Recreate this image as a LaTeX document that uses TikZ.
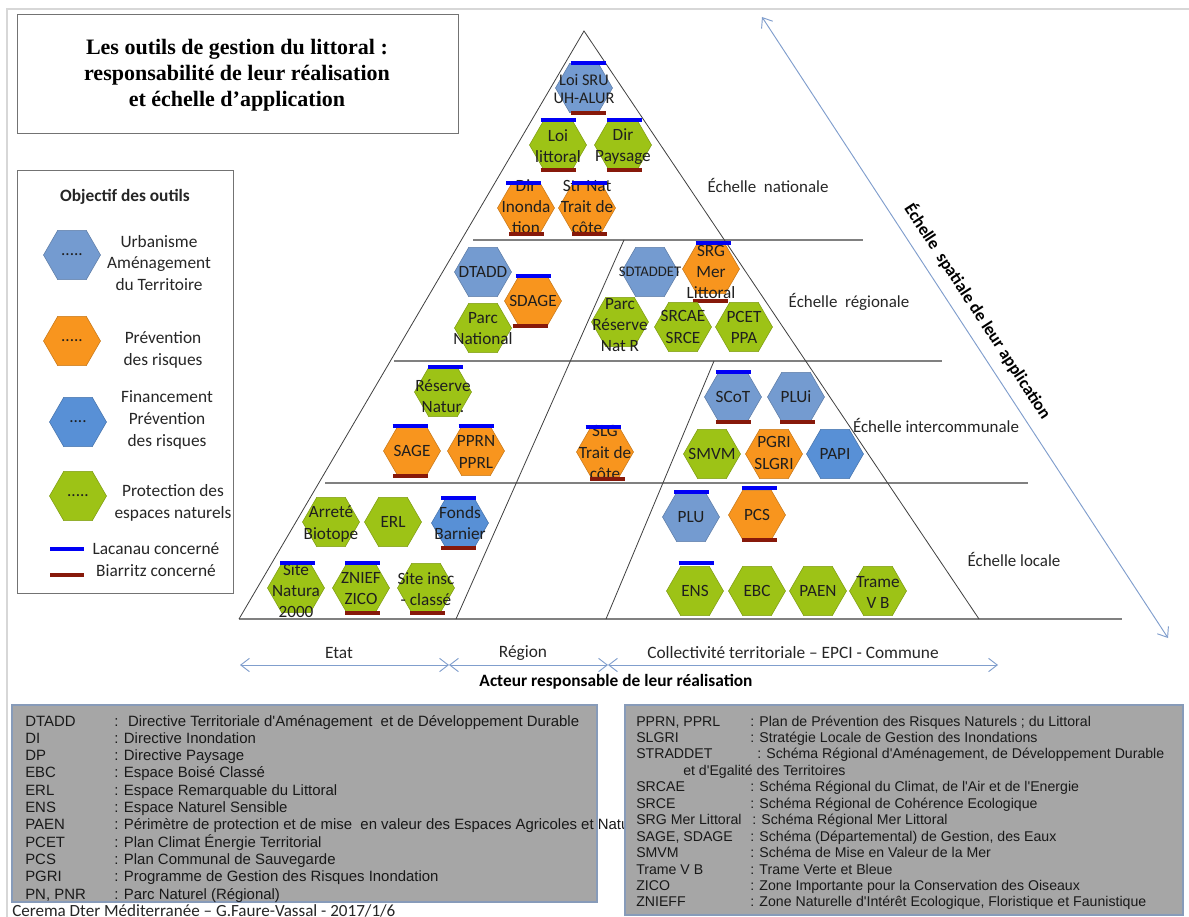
\documentclass[tikz,border=0pt]{standalone}
\usepackage{fontspec}
\setmainfont{Carlito}
\newfontfamily\arialf{Liberation Sans}
\newfontfamily\timesf{Liberation Serif}
\usetikzlibrary{shapes.geometric,arrows.meta}
\definecolor{urb}{RGB}{116,155,208}
\definecolor{fin}{RGB}{88,144,214}
\definecolor{org}{RGB}{248,149,30}
\definecolor{grn}{RGB}{157,195,22}
\definecolor{lacc}{RGB}{0,0,245}
\definecolor{biac}{RGB}{135,25,10}
\definecolor{axisc}{RGB}{128,158,205}
\definecolor{boxg}{RGB}{166,166,166}
\definecolor{boxb}{RGB}{135,155,185}
\definecolor{framec}{RGB}{215,215,215}
\tikzset{
 hexa/.style={regular polygon, regular polygon sides=6, minimum size=42.75pt, inner sep=0pt, outer sep=0pt, fill=#1, draw=#1!80!black, line width=0.4pt},
 hext/.style={font=\fontsize{12.9}{15.8}\selectfont, text=black!88, align=center, inner sep=0pt},
 lacbar/.style={draw=lacc, line width=3pt},
 biabar/.style={draw=biac, line width=3pt},
 triline/.style={draw=black!75, line width=0.6pt},
 hzline/.style={draw=black!50, line width=0.8pt},
 scaletxt/.style={font=\fontsize{12.7}{15}\selectfont, text=black!85, inner sep=0pt},
 axarr/.style={draw=axisc, line width=0.7pt, {Straight Barb[length=6.5pt,width=10pt]}-{Straight Barb[length=6.5pt,width=10pt]}},
 legtxt/.style={font=\fontsize{13}{16.2}\selectfont, text=black!85, align=center, inner sep=0pt},
 boxline/.style={draw=black!55, line width=0.6pt},
 abbrL/.style={font=\arialf\fontsize{11.2}{13}\selectfont, anchor=base west, inner sep=0pt, text=black!90},
 abbrR/.style={font=\arialf\fontsize{10.6}{12}\selectfont, anchor=base west, inner sep=0pt, text=black!90},
 titletxt/.style={font=\timesf\bfseries\fontsize{16.5}{19.5}\selectfont, align=center, inner sep=0pt},
}
\newcommand\Hx[7][]{%
 \node[hexa=#3] (#2) at (#4,#5) {};
 \node[hext,#1] (#2t) at ([shift={(0,#7)}]#2.center) {#6};}
\newcommand\Lac[3]{\draw[lacbar] ([shift={(#2-17.5,#3)}]#1.north) -- ++(35,0);}
\newcommand\Bia[3]{\draw[biabar] ([shift={(#2-17.5,#3)}]#1.south) -- ++(35,0);}
\begin{document}
\begin{tikzpicture}[x=0.75pt,y=-0.75pt]
\useasboundingbox (0,0) rectangle (1189,917);
\fill[white] (0,0) rectangle (1189,917);
\draw[framec, line width=1pt] (7,917) -- (7,9) -- (1189,9);

% title
\draw[boxline] (17,14) rectangle (458,133);
\node[titletxt] (title) at (237,75) {Les outils de gestion du littoral :\\responsabilité de leur réalisation\\et échelle d’application};

% legend
\draw[boxline] (17,170) rectangle (233,593);
\node[legtxt, font=\bfseries\fontsize{13}{16}\selectfont] (legtitle) at (125,197) {Objectif des outils};
\node[hexa=urb] (LgU) at (72,255) {};
\node[hext] (LgUd) at (LgU) {.....};
\node[legtxt] (LgUt) at (159,263) {Urbanisme\\Aménagement\\du Territoire};
\node[hexa=org] (LgO) at (72,341) {};
\node[hext] (LgOd) at (LgO) {.....};
\node[legtxt] (LgOt) at (163,350) {Prévention\\des risques};
\node[hexa=fin] (LgF) at (78,422) {};
\node[hext] (LgFd) at (LgF) {....};
\node[legtxt] (LgFt) at (167,420) {Financement\\Prévention\\des risques};
\node[hexa=grn] (LgG) at (78,496) {};
\node[hext] (LgGd) at (LgG) {.....};
\node[legtxt] (LgGt) at (173,503) {Protection des\\espaces naturels};
\coordinate (lacA) at (50,549); \coordinate (lacB) at (84,549);
\draw[lacbar] (lacA) -- (lacB);
\node[legtxt] (LgL) at (156,549) {Lacanau concerné};
\coordinate (biaA) at (50,575); \coordinate (biaB) at (84,575);
\draw[biabar] (biaA) -- (biaB);
\node[legtxt] (LgB) at (156,571) {Biarritz concerné};

% pyramid
\coordinate (apex) at (584,31);
\coordinate (tl) at (239,619);
\coordinate (tr) at (979,619);
\draw[hzline] (473,240) -- (863,240);
\draw[hzline] (394,361) -- (942,361);
\draw[hzline] (325,483) -- (1028,483);
\draw[hzline] (239,619) -- (1122,619);
\draw[triline] (tl) -- (apex) -- (tr);
\draw[triline] (624,240) -- (456,619);
\draw[triline] (714,361) -- (606,619);

% national
\Hx[font=\fontsize{12.2}{13.8}\selectfont]{LoiSRU}{urb}{584}{88}{Loi SRU\\UH-ALUR}{1}
\Lac{LoiSRU}{4}{0}\Bia{LoiSRU}{4}{0}
\Hx{LoiLit}{grn}{558}{145}{Loi\\littoral}{1.5}
\Lac{LoiLit}{0}{0}\Bia{LoiLit}{0}{0}
\Hx{DirPay}{grn}{623}{145}{Dir\\Paysage}{1.5}
\Lac{DirPay}{1}{0}\Bia{DirPay}{1}{0}
\Hx{DirInd}{org}{526}{208}{Dir\\Inonda\\tion}{-1}
\Hx{StrNat}{org}{587}{208}{Str Nat\\Trait de\\côte}{-1}
\Lac{DirInd}{-2.5}{0}\Bia{DirInd}{0.5}{1}
\Lac{StrNat}{2.5}{0}\Bia{StrNat}{2.5}{1}

% regional
\Hx{DTADD}{urb}{483}{272}{DTADD}{0}
\Hx{SDAGE}{org}{533}{301}{SDAGE}{0}
\Lac{SDAGE}{0}{0}\Bia{SDAGE}{-3}{0}
\Hx{ParcNat}{grn}{483}{328}{Parc\\National}{1}
\Hx[font=\fontsize{11}{13}\selectfont]{SDTADDET}{urb}{650}{272}{SDTADDET}{0}
\Hx{SRG}{org}{711}{269}{SRG\\Mer\\Littoral}{3}
\Lac{SRG}{2}{-1}\Bia{SRG}{-1}{7}
\Hx{ParcRes}{grn}{620}{322}{Parc\\Réserve\\Nat R}{3}
\Hx{SRCAE}{grn}{683}{327}{SRCAE\\SRCE}{0}
\Hx{PCET}{grn}{744}{327}{PCET\\PPA}{0}

% intercommunal
\Hx{ResNat}{grn}{443}{392}{Réserve\\Natur.}{4}
\Lac{ResNat}{2.5}{0}
\Hx{SAGE}{org}{412}{451}{SAGE}{0}
\Lac{SAGE}{-2}{0}\Bia{SAGE}{-1.5}{0}
\Hx{PPRN}{org}{476}{451}{PPRN\\PPRL}{1}
\Lac{PPRN}{0}{0}
\Hx{SLG}{org}{605}{452}{SLG\\Trait de\\côte}{0.5}
\Lac{SLG}{-2}{0}\Bia{SLG}{2.5}{2}
\Hx{SCoT}{urb}{733}{397}{SCoT}{0}
\Lac{SCoT}{0}{0}\Bia{SCoT}{0}{0}
\Hx{PLUi}{urb}{796}{397}{PLUi}{0}
\Bia{PLUi}{1.5}{0}
\Hx{SMVM}{grn}{712}{454}{SMVM}{0}
\Hx{PGRI}{org}{774}{454}{PGRI\\SLGRI}{-1}
\Hx{PAPI}{fin}{835}{454}{PAPI}{0}

% local
\Hx{Arrete}{grn}{331}{522}{Arreté\\Biotope}{2}
\Hx{ERL}{grn}{393}{522}{ERL}{0}
\Hx{Fonds}{fin}{460}{523}{Fonds\\Barnier}{0.5}
\Lac{Fonds}{-1.5}{0}\Bia{Fonds}{-1.5}{0}
\Hx{Natura}{grn}{296}{588}{Site\\Natura\\2000}{2.5}
\Lac{Natura}{1.5}{0}
\Hx{ZNIEF}{grn}{361}{588}{ZNIEF\\ZICO}{1}
\Lac{ZNIEF}{1.5}{0}\Bia{ZNIEF}{1.5}{0}
\Hx{SiteInsc}{grn}{426}{588}{Site insc\\- classé}{1}
\Bia{SiteInsc}{1.5}{0}
\Hx{PLU}{urb}{691}{517}{PLU}{0}
\Lac{PLU}{0.5}{0}
\Hx{PCS}{org}{757}{515}{PCS}{0}
\Lac{PCS}{2}{-2}\Bia{PCS}{2}{0}
\Hx{ENS}{grn}{695}{591}{ENS}{0}
\Lac{ENS}{1}{-3}
\Hx{EBC}{grn}{757}{591}{EBC}{0}
\Hx{PAEN}{grn}{818}{591}{PAEN}{0}
\Hx{Trame}{grn}{878}{591}{Trame\\V B}{1.5}

% scale labels
\node[scaletxt] (sNat) at (768,185) {Échelle~\ nationale};
\node[scaletxt] (sReg) at (849,302) {Échelle~\ régionale};
\node[scaletxt] (sInt) at (936,425) {Échelle intercommunale};
\node[scaletxt] (sLoc) at (1014,559) {Échelle locale};

% axes
\coordinate (d0) at (762,17); \coordinate (d1) at (1168,638);
\draw[axarr] (d0) -- (d1);
\node[font=\bfseries\fontsize{13}{15}\selectfont, rotate=-56.8, inner sep=0pt] (spat) at (978,311) {Échelle~\ spatiale de leur application};
\coordinate (a0) at (240,665); \coordinate (a1) at (449,665);
\coordinate (a2) at (608,665); \coordinate (a3) at (998,665);
\draw[axarr] (a0) -- (a1);
\draw[axarr] (a1) -- (a2);
\draw[axarr] (a2) -- (a3);
\node[scaletxt, font=\fontsize{13}{15}\selectfont] (etat) at (339,653) {Etat};
\node[scaletxt, font=\fontsize{13}{15}\selectfont] (reg) at (523,653) {Région};
\node[scaletxt, font=\fontsize{13}{15}\selectfont] (coll) at (793,653) {Collectivité territoriale – EPCI - Commune};
\node[scaletxt, font=\bfseries\fontsize{13}{15}\selectfont, text=black] (acteur) at (616,682) {Acteur responsable de leur réalisation};

% bottom left box
\draw[fill=boxg, draw=boxb, line width=1.2pt] (12,705) rectangle (597,902);
\foreach \i/\ab/\dfn in {0/DTADD/{\ Directive Territoriale d'Aménagement\ \ et de Développement Durable},
 1/DI/{Directive Inondation}, 2/DP/{Directive Paysage}, 3/EBC/{Espace Boisé Classé},
 4/ERL/{Espace Remarquable du Littoral}, 5/ENS/{Espace Naturel Sensible},
 6/PAEN/{Périmètre de protection et de mise\ \ en valeur des Espaces Agricoles et Naturels},
 7/PCET/{Plan Climat Énergie Territorial}, 8/PCS/{Plan Communal de Sauvegarde},
 9/PGRI/{Programme de Gestion des Risques Inondation}, 10/{PN, PNR}/{Parc Naturel (Régional)}}
 {\node[abbrL] (LB\i) at (25,726+17.3*\i) {\makebox[66.75pt][l]{\ab}: \dfn};}

% bottom right box
\draw[fill=boxg, draw=boxb, line width=1.2pt] (625,705) rectangle (1183,915);
\foreach \i/\w/\ab/\dfn in {0/85.5/{PPRN, PPRL}/{Plan de Prévention des Risques Naturels ; du Littoral},
 1/85.5/SLGRI/{Stratégie Locale de Gestion des Inondations},
 2/90.75/STRADDET/{Schéma Régional d'Aménagement, de Développement Durable},
 4/85.5/SRCAE/{Schéma Régional du Climat, de l'Air et de l'Energie},
 5/85.5/SRCE/{Schéma Régional de Cohérence Ecologique},
 6/87/{SRG Mer Littoral}/{Schéma Régional Mer Littoral},
 7/85.5/{SAGE, SDAGE}/{Schéma (Départemental) de Gestion, des Eaux},
 8/85.5/SMVM/{Schéma de Mise en Valeur de la Mer},
 9/85.5/{Trame V B}/{Trame Verte et Bleue},
 10/85.5/ZICO/{Zone Importante pour la Conservation des Oiseaux},
 11/85.5/ZNIEFF/{Zone Naturelle d'Intérêt Ecologique, Floristique et Faunistique}}
 {\node[abbrR] (RB\i) at (636,726+16.45*\i) {\makebox[\w pt][l]{\ab}: \dfn};}
\node[abbrR] (RB3) at (683,726+16.45*3) {et d'Egalité des Territoires};

\node[font=\fontsize{12.8}{15}\selectfont, anchor=west, inner sep=0pt, text=black!85] (cerema) at (12,911) {Cerema Dter Méditerranée – G.Faure-Vassal - 2017/1/6};
\end{tikzpicture}
\end{document}
